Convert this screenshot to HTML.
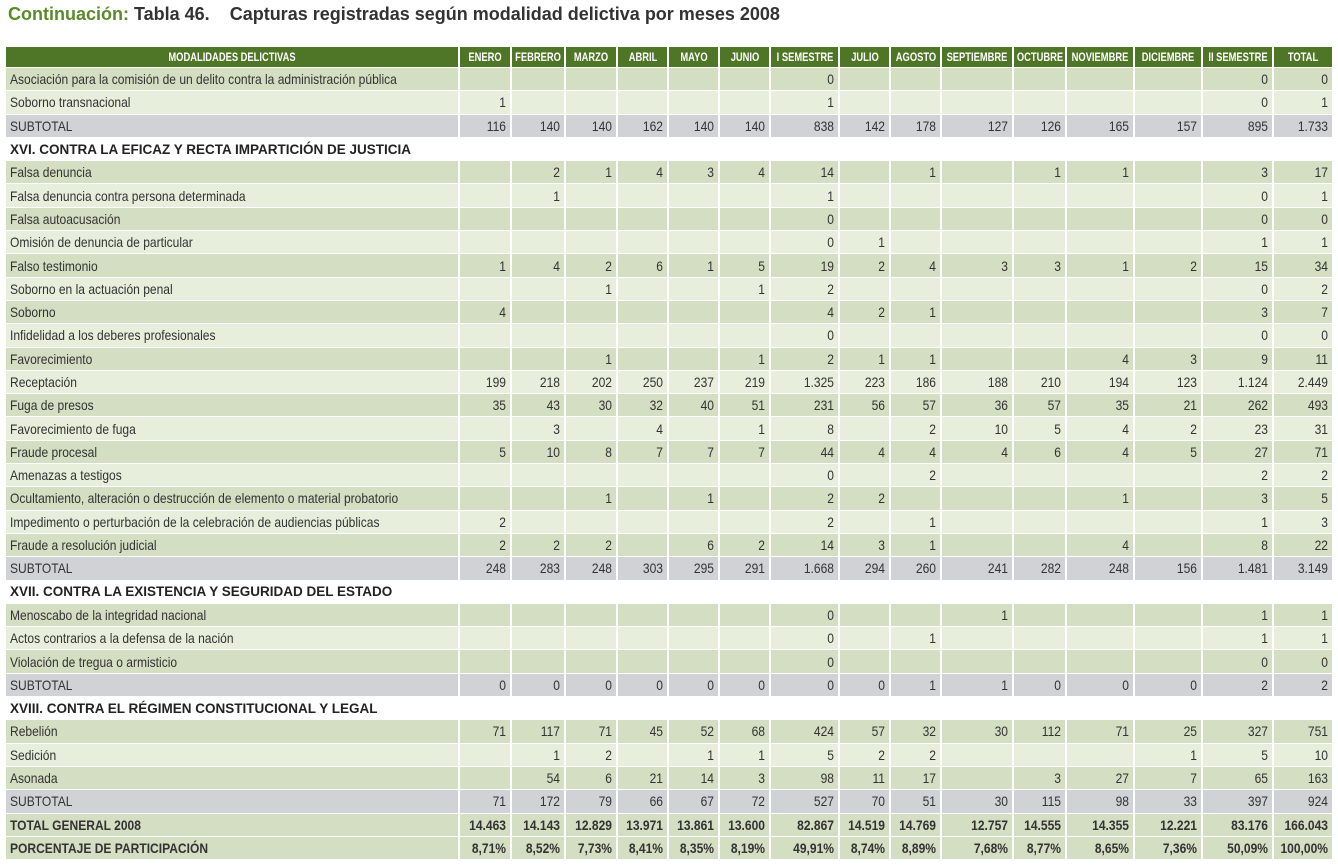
<!DOCTYPE html>
<html><head><meta charset="utf-8">
<style>
body{margin:0;width:1338px;height:865px;background:#fff;overflow:hidden;font-family:"Liberation Sans",sans-serif;}
#title{position:absolute;left:8px;top:4px;font-size:18px;font-weight:bold;color:#333;white-space:nowrap;}
#title .g{color:#5a8a2a;}
table{position:absolute;left:6px;top:47px;border-collapse:collapse;table-layout:fixed;width:1328px;}
td,th{padding:0 4px;border:1px solid #fff;border-width:0 2px 1px 0;font-size:14px;color:#333;white-space:nowrap;overflow:hidden;}
th{height:20px;background:#4f7527;color:#fff;font-size:12px;font-weight:bold;text-align:center;padding:0 1px;}
th span{display:block;width:200%;margin-left:-50%;text-align:center;transform:scaleX(0.78);transform-origin:center;}
td{height:22.3px;text-align:right;}
td span{display:block;width:300%;margin-left:-200%;text-align:right;transform:scaleX(0.86);transform-origin:right center;}
td.l span{display:inline-block;width:auto;margin:0;transform-origin:left center;}
td.l{text-align:left;}
tr.d td{background:#d4dec2;}
tr.w td{background:#e7eedc;}
tr.s td{background:#d1d2d6;}
tr.h td{background:#fff;font-weight:bold;font-size:13.5px;color:#222;}
tr.h td span{transform:none;}
tr.t td{background:#d4dec2;font-weight:bold;}
</style></head><body>
<div id="title"><span class="g">Continuación:</span> Tabla 46.&nbsp;&nbsp;&nbsp;&nbsp;Capturas registradas según modalidad delictiva por meses 2008</div>
<table id="tbl">
<colgroup><col style="width:453px"><col style="width:52px"><col style="width:54px"><col style="width:52px"><col style="width:51px"><col style="width:51px"><col style="width:51px"><col style="width:69px"><col style="width:51px"><col style="width:51px"><col style="width:72px"><col style="width:53px"><col style="width:68px"><col style="width:68px"><col style="width:71px"><col style="width:60px"></colgroup>
<thead><tr id="hdr"></tr></thead>
<tbody id="body"></tbody>
</table>
<script>
const headers=["MODALIDADES DELICTIVAS","ENERO","FEBRERO","MARZO","ABRIL","MAYO","JUNIO","I SEMESTRE","JULIO","AGOSTO","SEPTIEMBRE","OCTUBRE","NOVIEMBRE","DICIEMBRE","II SEMESTRE","TOTAL"];
const rowLabels=["Asociación para la comisión de un delito contra la administración pública","Soborno transnacional","SUBTOTAL","XVI. CONTRA LA EFICAZ Y RECTA IMPARTICIÓN DE JUSTICIA","Falsa denuncia","Falsa denuncia contra persona determinada","Falsa autoacusación","Omisión de denuncia de particular","Falso testimonio","Soborno en la actuación penal","Soborno","Infidelidad a los deberes profesionales","Favorecimiento","Receptación","Fuga de presos","Favorecimiento de fuga","Fraude procesal","Amenazas a testigos","Ocultamiento, alteración o destrucción de elemento o material probatorio","Impedimento o perturbación de la celebración de audiencias públicas","Fraude a resolución judicial","SUBTOTAL","XVII. CONTRA LA EXISTENCIA Y SEGURIDAD DEL ESTADO","Menoscabo de la integridad nacional","Actos contrarios a la defensa de la nación","Violación de tregua o armisticio","SUBTOTAL","XVIII. CONTRA EL RÉGIMEN CONSTITUCIONAL Y LEGAL","Rebelión","Sedición","Asonada","SUBTOTAL","TOTAL GENERAL 2008","PORCENTAJE DE PARTICIPACIÓN"];
const rowTypes=["d","w","s","h","d","w","d","w","d","w","d","w","d","w","d","w","d","w","d","w","d","s","h","d","w","d","s","h","d","w","d","s","t","t"];
const rowValues=[
["","","","","","","0","","","","","","","0","0"],
["1","","","","","","1","","","","","","","0","1"],
["116","140","140","162","140","140","838","142","178","127","126","165","157","895","1.733"],
null,
["","2","1","4","3","4","14","","1","","1","1","","3","17"],
["","1","","","","","1","","","","","","","0","1"],
["","","","","","","0","","","","","","","0","0"],
["","","","","","","0","1","","","","","","1","1"],
["1","4","2","6","1","5","19","2","4","3","3","1","2","15","34"],
["","","1","","","1","2","","","","","","","0","2"],
["4","","","","","","4","2","1","","","","","3","7"],
["","","","","","","0","","","","","","","0","0"],
["","","1","","","1","2","1","1","","","4","3","9","11"],
["199","218","202","250","237","219","1.325","223","186","188","210","194","123","1.124","2.449"],
["35","43","30","32","40","51","231","56","57","36","57","35","21","262","493"],
["","3","","4","","1","8","","2","10","5","4","2","23","31"],
["5","10","8","7","7","7","44","4","4","4","6","4","5","27","71"],
["","","","","","","0","","2","","","","","2","2"],
["","","1","","1","","2","2","","","","1","","3","5"],
["2","","","","","","2","","1","","","","","1","3"],
["2","2","2","","6","2","14","3","1","","","4","","8","22"],
["248","283","248","303","295","291","1.668","294","260","241","282","248","156","1.481","3.149"],
null,
["","","","","","","0","","","1","","","","1","1"],
["","","","","","","0","","1","","","","","1","1"],
["","","","","","","0","","","","","","","0","0"],
["0","0","0","0","0","0","0","0","1","1","0","0","0","2","2"],
null,
["71","117","71","45","52","68","424","57","32","30","112","71","25","327","751"],
["","1","2","","1","1","5","2","2","","","","1","5","10"],
["","54","6","21","14","3","98","11","17","","3","27","7","65","163"],
["71","172","79","66","67","72","527","70","51","30","115","98","33","397","924"],
["14.463","14.143","12.829","13.971","13.861","13.600","82.867","14.519","14.769","12.757","14.555","14.355","12.221","83.176","166.043"],
["8,71%","8,52%","7,73%","8,41%","8,35%","8,19%","49,91%","8,74%","8,89%","7,68%","8,77%","8,65%","7,36%","50,09%","100,00%"]
];
function sp(t){const s=document.createElement('span');s.textContent=t;return s;}
const hdr=document.getElementById('hdr');
headers.forEach(h=>{const th=document.createElement('th');th.appendChild(sp(h));


hdr.appendChild(th);});
const body=document.getElementById('body');
rowLabels.forEach((lab,i)=>{
 const tr=document.createElement('tr');tr.className=rowTypes[i];
 
 
 const td=document.createElement('td');td.className='l';td.appendChild(sp(lab));
 
 
 tr.appendChild(td);
 if(rowValues[i]===null){td.colSpan=16;}
 else rowValues[i].forEach(v=>{const c=document.createElement('td');c.appendChild(sp(v));
  
  
  tr.appendChild(c);});
 body.appendChild(tr);
});
</script>
</body></html>
